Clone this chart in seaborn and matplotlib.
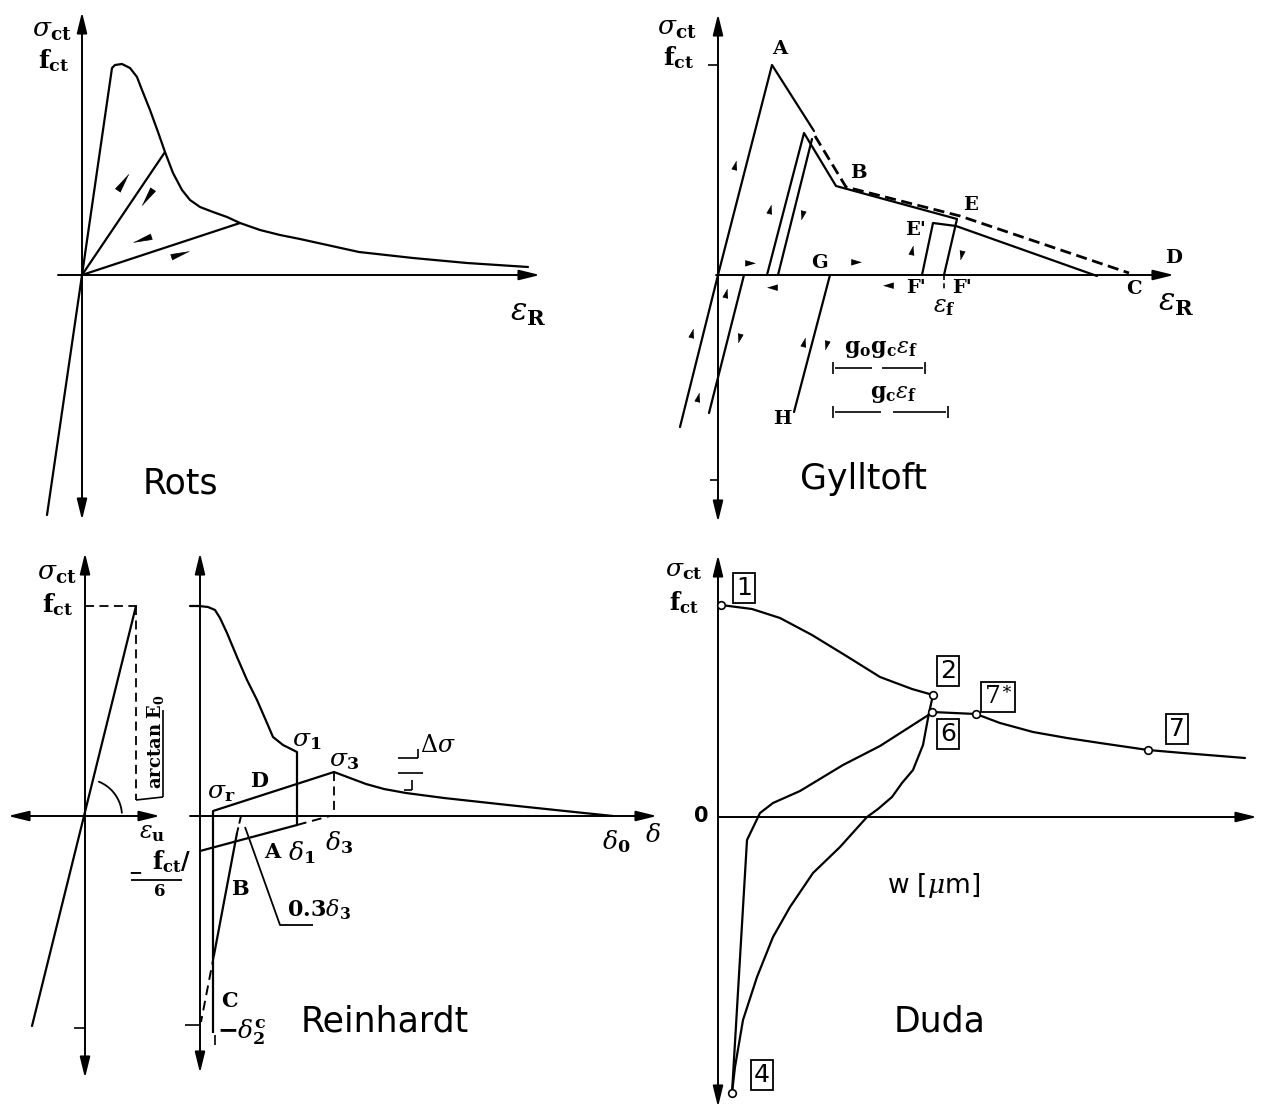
import numpy as np
import matplotlib
matplotlib.use("Agg")
import matplotlib.pyplot as plt
import seaborn as sns

# ---------------- data (image pixel units) ----------------
# Rots
rots_x = [47, 82, 112, 115, 122, 130, 137, 142, 150, 158, 165, 173, 182, 190, 200,
          213, 227, 240, 260, 280, 300, 359, 413, 467, 528]
rots_y = [515, 275, 68, 65, 64, 68, 77, 90, 110, 132, 152, 173, 190, 200, 207,
          212, 217, 223, 230, 235, 239, 252, 258, 263, 267]
rots_unload_x = [165, 240]
rots_unload_y = [152, 223]
rots_marks = [(123, 182, 56), (147, 197, 236), (142, 239, 198), (180, 254, 18)]

# Gylltoft
gyl_load_x = [680, 718, 772, 814]
gyl_load_y = [427, 275, 65, 131]
gyl_unload_x = [812, 778]
gyl_unload_y = [139, 275]
gyl_reload_x = [767, 804, 836, 957]
gyl_reload_y = [275, 133, 186, 219]
gyl_ef_x = [957, 944]
gyl_ef_y = [219, 275]
gyl_e2_x = [922, 933, 956, 1097]
gyl_e2_y = [275, 223, 226, 276]
gyl_env_x = [815, 846, 960, 1129]
gyl_env_y = [136, 187, 216, 273]
gyl_comp_x = [744, 709]
gyl_comp_y = [275, 413]
gyl_gh_x = [830, 794]
gyl_gh_y = [275, 412]
gyl_marks = [(735, 165, 76), (750, 263, 0), (770, 209, 76), (802, 215, 256),
             (772, 287, 180), (856, 262, 0), (888, 285, 180), (912, 250, 78),
             (961, 255, 258), (726, 293, 76), (692, 333, 76), (739, 338, 256),
             (804, 342, 76), (826, 345, 256), (698, 397, 76)]

# Reinhardt, left part
rl_x = [32, 136]
rl_y = [1026, 606]
# Reinhardt, right part
rr_x = [190, 199, 208, 215, 220, 227, 237, 247, 257, 267, 273, 283, 297, 297]
rr_y = [606, 606, 607, 610, 618, 633, 657, 680, 700, 723, 737, 745, 752, 825]
rr_a_x = [200, 297]
rr_a_y = [851, 825]
rr_d_x = [213, 334, 350, 366, 384, 406, 444, 508, 584, 613]
rr_d_y = [811, 772, 778, 784, 789, 793, 798, 805, 813, 816]
rr_b_x = [237, 214]
rr_b_y = [833, 955]

# Duda
duda_env_x = [721, 752, 780, 812, 848, 880, 912, 933]
duda_env_y = [605, 609, 618, 635, 657, 677, 689, 695]
duda_un_x = [933, 929, 923, 913, 902, 892, 878, 867, 840, 813, 790, 773, 757, 743, 735, 732]
duda_un_y = [695, 713, 745, 770, 783, 797, 809, 817, 847, 873, 907, 937, 977, 1020, 1067, 1093]
duda_re_x = [732, 747, 760, 773, 800, 843, 880, 930]
duda_re_y = [1093, 840, 813, 803, 791, 765, 746, 714]
duda_tail_x = [932, 976, 1000, 1033, 1067, 1100, 1148, 1183, 1245]
duda_tail_y = [712, 714, 723, 732, 738, 743, 750, 753, 758]
duda_pts = ["1", "2", "6", "7*", "7", "4"]
duda_pt_x = [721, 933, 932, 976, 1148, 732]
duda_pt_y = [605, 695, 712, 714, 750, 1093]
duda_box_x = [744, 948, 948, 998, 1177, 762]
duda_box_y = [588, 671, 734, 697, 729, 1075]

# ---------------- drawing ----------------
sns.set_theme(style="white")
plt.rcParams["mathtext.fontset"] = "dejavuserif"
plt.rcParams["font.family"] = ["DejaVu Sans"]
plt.rcParams["text.color"] = "black"

fig = plt.figure(figsize=(12.63, 11.08), dpi=100)
ax = fig.add_axes([0, 0, 1, 1])
ax.set_xlim(0, 1263)
ax.set_ylim(1108, 0)
ax.axis("off")

LW = 1.6


def curve(x, y, ls="-", lw=LW):
    sns.lineplot(x=x, y=y, sort=False, estimator=None, ax=ax, color="black",
                 lw=lw, linestyle=ls, legend=False)


def seg(x, y, ls="-", lw=LW):
    ax.plot(x, y, color="black", lw=lw, linestyle=ls, solid_capstyle="butt")


def arrow_axis(x0, y0, x1, y1, both=False):
    style = "<|-|>" if both else "-|>"
    ax.annotate("", xy=(x1, y1), xytext=(x0, y0),
                arrowprops=dict(arrowstyle=style + ",head_width=0.22,head_length=0.9",
                                color="black", lw=1.4, mutation_scale=14,
                                shrinkA=0, shrinkB=0))


def wedge(x, y, ang, size=9, slim=0.35):
    base = np.array([[1.0, 0.0], [-1.0, slim], [-1.0, -slim]])
    t = np.deg2rad(ang)
    rot = np.array([[np.cos(t), -np.sin(t)], [np.sin(t), np.cos(t)]])
    verts = [tuple(v) for v in base @ rot.T]
    ax.plot([x], [y], marker=verts, ms=size, color="black", mec="black", mew=0.5)


def lab(x, y, s, size=15, bold=True, serif=True, **kw):
    ax.text(x, y, s, fontsize=size, ha="center", va="center", color="black",
            fontweight="bold" if bold else "normal",
            family="DejaVu Serif" if serif else "DejaVu Sans", **kw)


sig_ct = r"$\sigma_{\mathbf{ct}}$"
f_ct = r"$\mathbf{f}_{\mathbf{ct}}$"

# ---- Rots ----
arrow_axis(82, 520, 82, 12, both=True)
arrow_axis(58, 275, 540, 275)
curve(rots_x, rots_y)
for ux, uy in zip(rots_unload_x, rots_unload_y):
    seg([82, ux], [275, uy])
for mx, my, ma in rots_marks:
    wedge(mx, my, ma, size=14, slim=0.32)
lab(52, 31, sig_ct, size=19, bold=False)
lab(54, 61, f_ct, size=18, bold=False)
lab(528, 312, r"$\varepsilon_{\mathbf{R}}$", size=22, bold=False)
lab(180, 484, "Rots", size=25, bold=False, serif=False)

# ---- Gylltoft ----
arrow_axis(718, 522, 718, 14, both=True)
arrow_axis(716, 275, 1174, 275)
seg([708, 718], [65, 65], lw=1.2)
seg([710, 718], [480, 480], lw=1.2)
curve(gyl_load_x, gyl_load_y)
curve(gyl_unload_x, gyl_unload_y)
curve(gyl_reload_x, gyl_reload_y)
curve(gyl_ef_x, gyl_ef_y)
curve(gyl_e2_x, gyl_e2_y)
curve(gyl_env_x, gyl_env_y, ls=(0, (4, 2)), lw=2.0)
curve(gyl_comp_x, gyl_comp_y)
curve(gyl_gh_x, gyl_gh_y)
seg([944, 944], [275, 291], ls=(0, (3, 2)), lw=1.2)
for mx, my, ma in gyl_marks:
    wedge(mx, my, ma, size=7, slim=0.6)
# dimension brackets
for yy, x0, x1, gap in [(368, 833, 925, (872, 882)), (412, 833, 948, (881, 893))]:
    seg([x0 + 2, gap[0]], [yy, yy], lw=1.2)
    seg([gap[1], x1 - 2], [yy, yy], lw=1.2)
    seg([x0, x0], [yy - 6, yy + 6], lw=1.2)
    seg([x1, x1], [yy - 6, yy + 6], lw=1.2)
lab(881, 349, r"$\mathbf{g_o g_c}\varepsilon_{\mathbf{f}}$", size=16, bold=False)
lab(894, 394, r"$\mathbf{g_c}\varepsilon_{\mathbf{f}}$", size=16, bold=False)
lab(677, 29, sig_ct, size=19, bold=False)
lab(679, 58, f_ct, size=18, bold=False)
for tx, ty, s in [(780, 49, "A"), (858, 173, "B"), (971, 205, "E"), (915, 230, "E'"),
                  (1174, 258, "D"), (1134, 289, "C"), (916, 288, "F'"), (962, 288, "F'"),
                  (819, 263, "G"), (782, 419, "H")]:
    lab(tx, ty, s, size=14)
lab(944, 307, r"$\varepsilon_{\mathbf{f}}$", size=17, bold=False)
lab(1176, 302, r"$\varepsilon_{\mathbf{R}}$", size=22, bold=False)
lab(863, 479, "Gylltoft", size=25, bold=False, serif=False)

# ---- Reinhardt (left) ----
arrow_axis(85, 1078, 85, 553, both=True)
arrow_axis(8, 816, 160, 816, both=True)
curve(rl_x, rl_y)
seg([85, 136], [606, 606], ls=(0, (5, 3)), lw=1.3)
seg([136, 136], [606, 800], ls=(0, (5, 3)), lw=1.3)
seg([136, 163], [800, 797], lw=1.2)
seg([163, 163], [710, 797], lw=1.2)
arc_t = np.deg2rad(np.linspace(5, 68, 30))
ax.plot(85 + 37 * np.cos(arc_t), 816 - 37 * np.sin(arc_t), color="black", lw=1.3)
seg([74, 85], [1028, 1028], lw=1.2)
ax.text(155, 742, r"$\mathbf{arctan\ E_0}$", fontsize=13, rotation=90,
        ha="center", va="center", color="black")
lab(57, 573, sig_ct, size=19, bold=False)
lab(58, 605, f_ct, size=18, bold=False)
lab(152, 832, r"$\varepsilon_{\mathbf{u}}$", size=17, bold=False)

# ---- Reinhardt (right) ----
arrow_axis(200, 1073, 200, 553, both=True)
arrow_axis(190, 816, 657, 816)
curve(rr_x, rr_y)
curve(rr_a_x, rr_a_y)
seg([297, 330], [825, 816], ls=(0, (5, 3)), lw=1.4)
curve(rr_d_x, rr_d_y)
seg([334, 334], [772, 816], ls=(0, (5, 3)), lw=1.3)
seg([213, 213], [811, 1033])
seg([241, 237], [816, 833], ls=(0, (4, 2)), lw=1.4)
curve(rr_b_x, rr_b_y)
seg([214, 201], [955, 1022], ls=(0, (5, 3)), lw=1.4)
seg([245, 280, 313], [827, 925, 925], lw=1.3)
# delta-sigma marks
seg([398, 418], [758, 758], lw=1.2)
seg([418, 418], [749, 758], lw=1.2)
seg([398, 423], [773, 773], lw=1.2)
seg([412, 412], [780, 790], lw=1.2)
seg([404, 412], [790, 790], lw=1.2)
seg([185, 200], [1025, 1025], lw=1.2)
seg([215, 215], [1035, 1045], lw=1.2)
# f_ct / 6
seg([131, 182], [880, 880], lw=1.3)
lab(172, 862, r"$\mathbf{f_{ct}/}$", size=17, bold=False)
lab(159, 892, r"$\mathbf{6}$", size=12, bold=False)
lab(135, 873, "−", size=12)
lab(307, 740, r"$\sigma_{\mathbf{1}}$", size=18, bold=False)
lab(344, 760, r"$\sigma_{\mathbf{3}}$", size=18, bold=False)
lab(438, 746, r"$\Delta\sigma$", size=17, bold=False)
lab(221, 793, r"$\sigma_{\mathbf{r}}$", size=18, bold=False)
lab(302, 853, r"$\delta_{\mathbf{1}}$", size=18, bold=False)
lab(339, 843, r"$\delta_{\mathbf{3}}$", size=18, bold=False)
lab(616, 842, r"$\delta_{\mathbf{0}}$", size=18, bold=False)
lab(653, 835, r"$\delta$", size=18, bold=False)
lab(319, 910, r"$\mathbf{0.3}\delta_{\mathbf{3}}$", size=16, bold=False)
lab(242, 1032, r"$\mathbf{-}\delta_{\mathbf{2}}^{\mathbf{c}}$", size=18, bold=False)
for tx, ty, s in [(259, 781, "D"), (272, 852, "A"), (240, 889, "B"), (229, 1001, "C")]:
    lab(tx, ty, s, size=15)
lab(385, 1021, "Reinhardt", size=25, bold=False, serif=False)

# ---- Duda ----
arrow_axis(718, 1107, 718, 555, both=True)
arrow_axis(718, 817, 1257, 817)
curve(duda_env_x, duda_env_y)
curve(duda_un_x, duda_un_y)
curve(duda_re_x, duda_re_y)
curve(duda_tail_x, duda_tail_y)
sns.scatterplot(x=duda_pt_x, y=duda_pt_y, ax=ax, s=30, facecolor="white",
                edgecolor="black", linewidth=1.2, zorder=5, legend=False)
for name, bx, by in zip(duda_pts, duda_box_x, duda_box_y):
    txt = r"$7^{\ast}$" if name == "7*" else name
    ax.text(bx, by, txt, fontsize=18, ha="center", va="center", family="DejaVu Sans",
            color="black",
            bbox=dict(boxstyle="square,pad=0.12", fc="white", ec="black", lw=1.3))
lab(684, 570, sig_ct, size=18, bold=False)
lab(684, 603, f_ct, size=17, bold=False)
lab(701, 816, "0", size=15, bold=True, serif=False)
ax.text(934, 885, r"w [$\mu$m]", fontsize=19, ha="center", va="center",
        family="DejaVu Sans", color="black")
lab(940, 1021, "Duda", size=25, bold=False, serif=False)

fig.savefig("out.png", dpi=100)
